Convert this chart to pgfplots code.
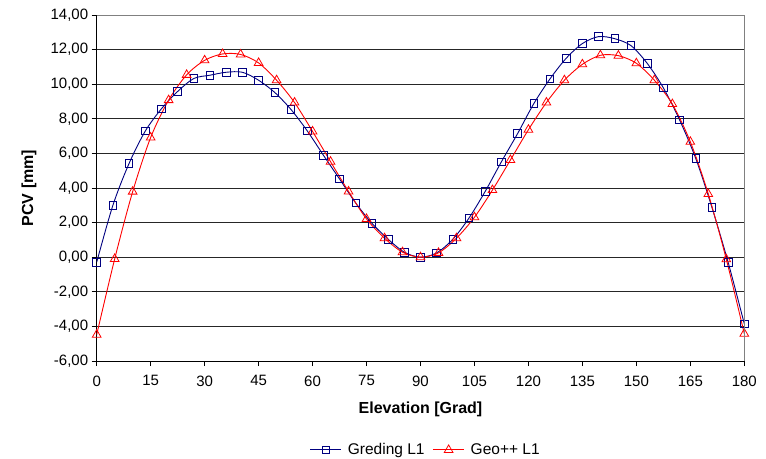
\documentclass[border=0pt]{standalone}
\usepackage{fontspec}
\setmainfont{Liberation Sans}
\usepackage{pgfplots}
\pgfplotsset{compat=1.18}

\definecolor{gredblue}{RGB}{0,0,128}
\definecolor{georot}{RGB}{255,0,0}
\definecolor{rahmen}{RGB}{128,128,128}

\begin{document}
\begin{tikzpicture}[font=\fontsize{15}{18}\selectfont]
\useasboundingbox (-96.7pt,-97pt) rectangle (669.3pt,361pt);
\begin{axis}[
    scale only axis,
    width=647.6pt,
    height=346pt,
    xmin=0, xmax=180,
    ymin=-6, ymax=14,
    xtick distance=15,
    ytick distance=2,
    axis x line=bottom,
    axis y line=left,
    axis line style={-, black, line width=0.8pt},
    tick align=outside,
    major tick length=5pt,
    tick style={black, line width=0.8pt},
    ymajorgrids,
    grid style={black!85, line width=0.8pt},
    /pgf/number format/assume math mode=true,
    xticklabel style={yshift=-6pt},
    yticklabel style={/pgf/number format/.cd, fixed, fixed zerofill, precision=2, use comma},
    xlabel={\textbf{Elevation [Grad]}},
    ylabel={\textbf{PCV [mm]}},
    xlabel style={at={(axis description cs:0.5,-0.139)}, anchor=center, font=\fontsize{16}{19}\selectfont},
    ylabel style={at={(axis description cs:-0.1045,0.5)}, anchor=center, font=\fontsize{16}{19}\selectfont},
    legend style={at={(axis description cs:0.508,-0.257)}, anchor=center, draw=none,
        legend columns=2, font=\fontsize{15.5}{18}\selectfont,
        /tikz/every odd column/.append style={column sep=4pt},
        /tikz/every even column/.append style={column sep=6pt}},
    legend image code/.code={
        \draw[mark repeat=2, mark phase=2] plot coordinates {(0cm,0cm) (0.55cm,0cm) (1.1cm,0cm)};
    },
    after end axis/.code={
        \draw[rahmen, line width=0.8pt] (rel axis cs:0,1) -- (rel axis cs:1,1) -- (rel axis cs:1,0);
    },
]
\addplot[gredblue, line width=0.9pt, smooth, mark=square, mark size=3.8pt,
    mark options={solid, line width=0.8pt}] coordinates {
    (0,-0.29) (4.5,3.00) (9,5.42) (13.5,7.29) (18,8.58) (22.5,9.58)
    (27,10.33) (31.5,10.52) (36,10.69) (40.5,10.69) (45,10.23) (49.5,9.52)
    (54,8.54) (58.5,7.31) (63,5.90) (67.5,4.52) (72,3.13) (76.5,1.96)
    (81,1.04) (85.5,0.29) (90,0.00) (94.5,0.25) (99,1.04) (103.5,2.27)
    (108,3.81) (112.5,5.52) (117,7.15) (121.5,8.88) (126,10.31) (130.5,11.50)
    (135,12.35) (139.5,12.75) (144,12.63) (148.5,12.23) (153,11.21) (157.5,9.79)
    (162,7.94) (166.5,5.71) (171,2.88) (175.5,-0.29) (180,-3.85)
};
\addlegendentry{Greding L1}
\addplot[georot, line width=0.9pt, smooth, mark=triangle, mark size=5pt,
    mark options={solid, line width=0.8pt}] coordinates {
    (0,-4.48) (5,-0.10) (10,3.79) (15,6.92) (20,9.08) (25,10.54)
    (30,11.38) (35,11.75) (40,11.72) (45,11.23) (50,10.23) (55,8.94)
    (60,7.27) (65,5.52) (70,3.80) (75,2.21) (80,1.10) (85,0.29)
    (90,0.00) (95,0.25) (100,1.10) (105,2.31) (110,3.88) (115,5.62)
    (120,7.37) (125,8.94) (130,10.23) (135,11.15) (140,11.67) (145,11.65)
    (150,11.21) (155,10.23) (160,8.85) (165,6.67) (170,3.65) (175,-0.12)
    (180,-4.42)
};
\addlegendentry{Geo++ L1}
\end{axis}
\end{tikzpicture}
\end{document}
